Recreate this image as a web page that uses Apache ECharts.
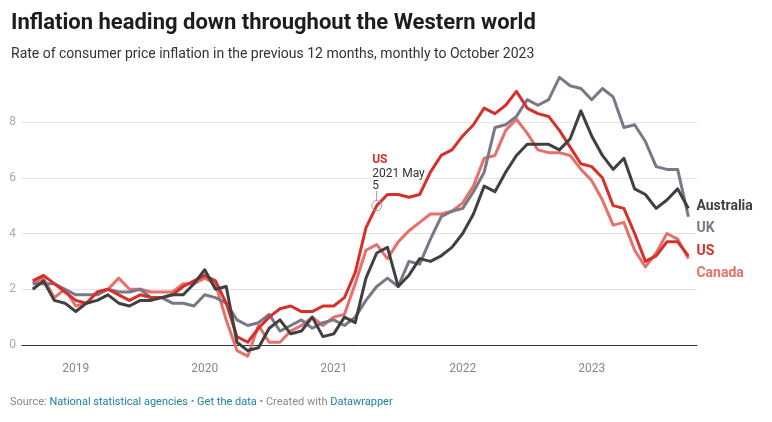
<!DOCTYPE html>
<html>
<head>
<meta charset="utf-8">
<script src="https://cdn.jsdelivr.net/npm/echarts@6/dist/echarts.min.js"></script>
<style>
html,body{margin:0;padding:0;background:#fff;}
#chart{width:772px;height:422px;}
</style>
</head>
<body>
<div id="chart"></div>
<script>
// ---- data ----
const months = ['2018-09','2018-10','2018-11','2018-12',
 '2019-01','2019-02','2019-03','2019-04','2019-05','2019-06','2019-07','2019-08','2019-09','2019-10','2019-11','2019-12',
 '2020-01','2020-02','2020-03','2020-04','2020-05','2020-06','2020-07','2020-08','2020-09','2020-10','2020-11','2020-12',
 '2021-01','2021-02','2021-03','2021-04','2021-05','2021-06','2021-07','2021-08','2021-09','2021-10','2021-11','2021-12',
 '2022-01','2022-02','2022-03','2022-04','2022-05','2022-06','2022-07','2022-08','2022-09','2022-10','2022-11','2022-12',
 '2023-01','2023-02','2023-03','2023-04','2023-05','2023-06','2023-07','2023-08','2023-09','2023-10'];

const canada = [2.2,2.4,1.7,2.0,
 1.4,1.5,1.9,2.0,2.4,2.0,2.0,1.9,1.9,1.9,2.2,2.2,
 2.4,2.2,0.9,-0.2,-0.4,0.7,0.1,0.1,0.5,0.7,1.0,0.7,
 1.0,1.1,2.2,3.4,3.6,3.1,3.7,4.1,4.4,4.7,4.7,4.8,
 5.1,5.7,6.7,6.8,7.7,8.1,7.6,7.0,6.9,6.9,6.8,6.3,
 5.9,5.2,4.3,4.4,3.4,2.8,3.3,4.0,3.8,3.1];

const uk = [2.2,2.2,2.2,2.0,
 1.8,1.8,1.8,2.0,1.9,1.9,2.0,1.7,1.7,1.5,1.5,1.4,
 1.8,1.7,1.5,0.9,0.7,0.8,1.1,0.5,0.7,0.9,0.6,0.8,
 0.9,0.7,1.0,1.6,2.1,2.4,2.1,3.0,2.9,3.8,4.6,4.8,
 4.9,5.5,6.2,7.8,7.9,8.2,8.8,8.6,8.8,9.6,9.3,9.2,
 8.8,9.2,8.9,7.8,7.9,7.3,6.4,6.3,6.3,4.6];

const us = [2.3,2.5,2.2,1.9,
 1.6,1.5,1.9,2.0,1.8,1.6,1.8,1.7,1.7,1.8,2.1,2.3,
 2.5,2.3,1.5,0.3,0.1,0.6,1.0,1.3,1.4,1.2,1.2,1.4,
 1.4,1.7,2.6,4.2,5.0,5.4,5.4,5.3,5.4,6.2,6.8,7.0,
 7.5,7.9,8.5,8.3,8.6,9.1,8.5,8.3,8.2,7.7,7.1,6.5,
 6.4,6.0,5.0,4.9,4.0,3.0,3.2,3.7,3.7,3.2];

const australia = [2.0,2.3,1.6,1.5,
 1.2,1.5,1.6,1.8,1.5,1.4,1.6,1.6,1.7,1.8,1.8,2.2,
 2.7,2.0,2.1,0.1,-0.2,-0.1,0.6,0.9,0.4,0.5,1.0,0.3,
 0.4,1.0,0.8,2.4,3.3,3.5,2.1,2.5,3.1,3.0,3.2,3.5,
 4.0,4.7,5.7,5.5,6.2,6.8,7.2,7.2,7.2,7.0,7.4,8.4,
 7.5,6.8,6.3,6.7,5.6,5.4,4.9,5.2,5.6,4.9];

const yearLabels = ['2019','2020','2021','2022','2023'];
const yTicks = [0,2,4,6,8];
const annotationSeries = 'US';
const annotationMonth = '2021-05';
const annotationDate = '2021 May';

// ---- helpers ----
const monthPos = m => { const [y, mo] = m.split('-').map(Number); return (y - 2019) * 12 + (mo - 1); };
const pairs = arr => arr.map((v, i) => [monthPos(months[i]), v]);

const annIdx = months.indexOf(annotationMonth);
const annCoord = [monthPos(annotationMonth), us[annIdx]];

const FONT = 'Roboto, "Noto Sans", sans-serif';

function lineSeries(name, values, color, z, dy) {
  return {
    name: name, type: 'line', data: pairs(values), z: z,
    symbol: 'none', clip: false, smooth: false,
    lineStyle: { color: color, width: 3, join: 'round' },
    itemStyle: { color: color },
    emphasis: { disabled: true },
    endLabel: {
      show: true, formatter: name, color: color, fontFamily: FONT,
      fontSize: 14, fontWeight: 'bold', distance: 8, offset: [0, dy]
    }
  };
}

const chart = echarts.init(document.getElementById('chart'), null, { renderer: 'canvas' });

const usSeries = lineSeries('US', us, '#d7302a', 4, -4.5);
usSeries.markPoint = {
  silent: true, animation: false,
  data: [
    { coord: annCoord, symbol: 'rect', symbolSize: [1, 10], symbolOffset: [0, -10],
      itemStyle: { color: '#9a9a9a' }, label: { show: false } },
    { coord: annCoord, symbol: 'circle', symbolSize: 10,
      itemStyle: { color: 'rgba(255,255,255,0)', borderColor: '#9a9a9a', borderWidth: 1 },
      label: {
        show: true, position: [1, -48],
        formatter: '{a|' + annotationSeries + '}\n{b|' + annotationDate + '}\n{b|' + us[annIdx] + '}',
        rich: {
          a: { fontFamily: FONT, fontSize: 12, fontWeight: 'bold', color: '#d7302a', lineHeight: 16,
               textBorderColor: '#fff', textBorderWidth: 3 },
          b: { fontFamily: FONT, fontSize: 12, color: '#333', lineHeight: 12,
               textBorderColor: '#fff', textBorderWidth: 3 }
        }
      } }
  ]
};

const option = {
  animation: false,
  backgroundColor: '#fff',
  textStyle: { fontFamily: FONT },
  title: [
    { text: 'Inflation heading down throughout the Western world', left: 11, top: 12, padding: 0,
      textStyle: { fontFamily: FONT, fontSize: 22, fontWeight: 'bold', color: '#1d1d1d' } },
    { text: 'Rate of consumer price inflation in the previous 12 months, monthly to October 2023', left: 11, top: 47, padding: 0,
      textStyle: { fontFamily: FONT, fontSize: 14, fontWeight: 'normal', color: '#333' } },
    { text: '{g|Source: }{b|National statistical agencies}{g| • }{b|Get the data}{g| • Created with }{b|Datawrapper}',
      left: 10, top: 397, padding: 0,
      textStyle: { fontWeight: 'normal', rich: {
        g: { fontFamily: FONT, fontSize: 11, fontWeight: 'normal', color: '#888' },
        b: { fontFamily: FONT, fontSize: 11, fontWeight: 'normal', color: '#1d81a2' }
      } } }
  ],
  grid: { left: 22, right: 75, top: 66.25, bottom: 77, containLabel: false, outerBoundsMode: 'none' },
  xAxis: {
    type: 'value', min: -5, max: 57.8,
    axisLine: { show: true, onZero: true, lineStyle: { color: '#333', width: 1 } },
    axisTick: { show: false },
    splitLine: { show: false },
    axisLabel: {
      customValues: yearLabels.map(y => (Number(y) - 2019) * 12),
      formatter: v => String(2019 + Math.round(v / 12)),
      color: '#888', fontSize: 12, fontFamily: FONT, margin: 18
    }
  },
  yAxis: {
    type: 'value', min: 0, max: 10, interval: 2,
    axisLine: { show: false }, axisTick: { show: false },
    splitLine: { show: true, showMaxLine: false, lineStyle: { color: '#e3e3e3', width: 1 } },
    axisLabel: {
      customValues: yTicks,
      color: '#aaa', fontSize: 12, fontFamily: FONT, margin: 6
    }
  },
  series: [
    lineSeries('Canada', canada, '#e5716a', 1, 15),
    lineSeries('UK', uk, '#7b7787', 2, 11.5),
    usSeries,
    lineSeries('Australia', australia, '#404040', 5, -2)
  ]
};
chart.setOption(option);
</script>
</body>
</html>
